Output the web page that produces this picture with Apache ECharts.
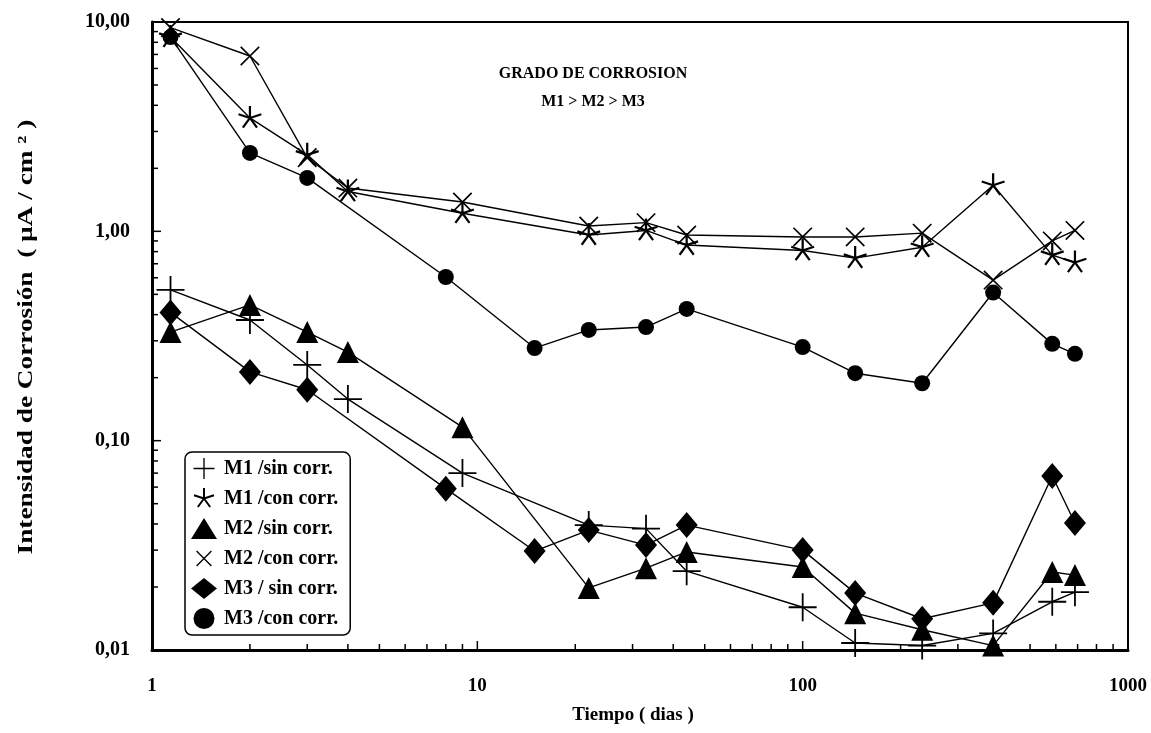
<!DOCTYPE html>
<html>
<head>
<meta charset="utf-8">
<script src="https://cdn.jsdelivr.net/npm/echarts@6/dist/echarts.min.js"></script>
<style>
  html, body { margin: 0; padding: 0; background: #ffffff; }
  #chart { width: 1151px; height: 733px; }
</style>
</head>
<body>
<div id="chart"></div>
<script>
// Exposure time (days) at each measurement
var daysM12 = [1.14, 2, 3, 4, 9, 22, 33, 44, 100, 145, 233, 385, 585, 687];
var daysM3  = [1.14, 2, 3, 8, 15, 22, 33, 44, 100, 145, 233, 385, 585, 687];

// Corrosion current density (µA/cm²)
var m1Sin = [0.525, 0.377, 0.23, 0.158, 0.070, 0.0395, 0.038, 0.0238, 0.016, 0.0108, 0.0105, 0.012, 0.017, 0.0189];
var m1Con = [8.47, 3.48, 2.32, 1.55, 1.22, 0.96, 1.01, 0.86, 0.81, 0.745, 0.84, 1.66, 0.77, 0.71];
var m2Sin = [0.33, 0.445, 0.33, 0.265, 0.116, 0.0198, 0.0246, 0.0294, 0.0249, 0.015, 0.0125, 0.0105, 0.0236, 0.0228];
var m2Con = [9.4, 6.88, 2.25, 1.61, 1.38, 1.06, 1.10, 0.96, 0.94, 0.94, 0.98, 0.585, 0.90, 1.01];
var m3Sin = [0.41, 0.213, 0.175, 0.059, 0.0297, 0.0374, 0.0317, 0.0395, 0.030, 0.0187, 0.0141, 0.0168, 0.0678, 0.0404];
var m3Con = [8.47, 2.37, 1.80, 0.605, 0.277, 0.338, 0.349, 0.426, 0.28, 0.21, 0.188, 0.51, 0.29, 0.26];

var seriesNames = ['M1 /sin corr.', 'M1 /con corr.', 'M2 /sin corr.', 'M2 /con corr.', 'M3 / sin corr.', 'M3 /con corr.'];

// Axis tick values
var xTickLabels = [1, 10, 100, 1000];
var yTickLabels = ['0,01', '0,10', '1,00', '10,00'];
var xMinorTicks = [2, 3, 4, 5, 6, 7, 8, 9, 20, 30, 40, 50, 60, 70, 80, 90, 200, 300, 400, 500, 600, 700, 800, 900];
var yMinorTicks = [0.02, 0.03, 0.04, 0.05, 0.06, 0.07, 0.08, 0.09, 0.2, 0.3, 0.4, 0.5, 0.6, 0.7, 0.8, 0.9, 2, 3, 4, 5, 6, 7, 8, 9];

var SERIF = '"Liberation Serif", "Times New Roman", serif';

// Builds a thin-stroked marker glyph out of rectangular arms radiating from the centre.
function armsPath(anglesDeg, len, hw) {
  var parts = [];
  anglesDeg.forEach(function (a) {
    var r = a * Math.PI / 180;
    var dx = Math.cos(r), dy = Math.sin(r);
    var nx = -dy * hw, ny = dx * hw;
    var pts = [
      [nx, ny], [dx * len + nx, dy * len + ny],
      [dx * len - nx, dy * len - ny], [-nx, -ny]
    ];
    parts.push('M' + pts.map(function (p) { return p[0].toFixed(3) + ',' + p[1].toFixed(3); }).join('L') + 'Z');
  });
  // tiny corner anchors keep the glyph centred in its box
  parts.push('M' + (-len) + ',' + (-len) + 'h0.01v0.01h-0.01Z');
  parts.push('M' + (len - 0.01) + ',' + (len - 0.01) + 'h0.01v0.01h-0.01Z');
  return 'path://' + parts.join('');
}

var symPlus = armsPath([0, 90, 180, 270], 14, 0.9);
var symCross = armsPath([45, 135, 225, 315], 14, 0.9);
var symStar = armsPath([-90, -18, 198, 54, 126], 14, 1.3);

function pairs(xs, ys) {
  return xs.map(function (x, i) { return [x, ys[i]]; });
}

function lineSeries(name, xs, ys, symbol, size) {
  return {
    name: name,
    type: 'line',
    data: pairs(xs, ys),
    symbol: symbol,
    symbolSize: size,
    symbolKeepAspect: true,
    showAllSymbol: true,
    clip: false,
    lineStyle: { color: '#000', width: 1.4 },
    itemStyle: { color: '#000', borderWidth: 0 },
    emphasis: { disabled: true },
    animation: false,
    z: 3
  };
}

// Minor ticks drawn inside the plot along the left and bottom axes
var tickSeries = {
  type: 'custom',
  silent: true,
  animation: false,
  clip: false,
  z: 5,
  data: xMinorTicks.map(function (v) { return ['x', v]; })
    .concat(yMinorTicks.map(function (v) { return ['y', v]; }))
    .concat([1, 10, 100].map(function (v) { return ['X', v]; }))
    .concat([0.1, 1].map(function (v) { return ['Y', v]; })),
  encode: { x: -1, y: -1 },
  renderItem: function (params, api) {
    var kind = api.value(0);
    var v = api.value(1);
    var p, shape;
    if (kind === 'x' || kind === 'X') {
      p = api.coord([v, 0.01]);
      var lx = kind === 'X' ? 9 : 6;
      shape = { x1: p[0], y1: p[1], x2: p[0], y2: p[1] - lx };
    } else {
      p = api.coord([1, v]);
      var ly = kind === 'Y' ? 9 : 6;
      shape = { x1: p[0], y1: p[1], x2: p[0] + ly, y2: p[1] };
    }
    return { type: 'line', shape: shape, style: { stroke: '#000', lineWidth: 1.5 } };
  }
};

var symbols = [symPlus, symStar, 'triangle', symCross, 'diamond', 'circle'];

var option = {
  animation: false,
  backgroundColor: '#ffffff',
  title: [
    {
      text: 'GRADO DE CORROSION',
      left: 588, top: 61,
      textAlign: 'center',
      textStyle: { fontFamily: SERIF, fontWeight: 'bold', fontSize: 16, color: '#000' }
    },
    {
      text: 'M1 > M2 > M3',
      left: 588, top: 89,
      textAlign: 'center',
      textStyle: { fontFamily: SERIF, fontWeight: 'bold', fontSize: 16, color: '#000' }
    }
  ],
  // vertical axis title, stretched along its length
  graphic: [{
    type: 'text',
    x: 26, y: 337,
    rotation: Math.PI / 2,
    scaleX: 1.24,
    style: {
      text: 'Intensidad de Corrosión  ( µA / cm ² )',
      fontFamily: SERIF, fontWeight: 'bold', fontSize: 22, fill: '#000',
      align: 'center', verticalAlign: 'middle'
    },
    silent: true
  }],
  legend: {
    orient: 'vertical',
    left: 185, top: 452,
    padding: [6, 12, 6, 6],
    itemGap: 9,
    itemWidth: 26,
    itemHeight: 21,
    itemSymbolKeepAspect: true,
    backgroundColor: '#fff',
    borderColor: '#000',
    borderWidth: 1.5,
    borderRadius: 7,
    selectedMode: false,
    textStyle: { fontFamily: SERIF, fontWeight: 'bold', fontSize: 20, color: '#000', padding: [0, 0, 0, 2] },
    data: seriesNames.map(function (n, i) {
      return { name: n, icon: symbols[i], itemStyle: { color: '#000' } };
    })
  },
  grid: {
    left: 152, right: 23, top: 22, bottom: 83,
    show: true,
    borderColor: '#000',
    borderWidth: 2,
    backgroundColor: 'transparent'
  },
  xAxis: {
    type: 'log',
    logBase: 10,
    min: 1, max: 1000,
    name: 'Tiempo ( dias )',
    nameLocation: 'middle',
    nameGap: 56,
    nameTextStyle: { fontFamily: SERIF, fontWeight: 'bold', fontSize: 19, color: '#000', padding: [0, 14, 0, 0] },
    axisLine: { show: true, lineStyle: { color: '#000', width: 3 } },
    axisTick: { show: false },
    splitLine: { show: false },
    axisLabel: {
      margin: 27,
      fontFamily: SERIF, fontWeight: 'bold', fontSize: 19, color: '#000',
      formatter: function (v) {
        var r = Math.round(v);
        return xTickLabels.indexOf(r) >= 0 ? String(r) : '';
      }
    }
  },
  yAxis: {
    type: 'log',
    logBase: 10,
    min: 0.01, max: 10,
    axisLine: { show: true, lineStyle: { color: '#000', width: 3 } },
    axisTick: { show: false },
    splitLine: { show: false },
    axisLabel: {
      margin: 22,
      fontFamily: SERIF, fontWeight: 'bold', fontSize: 20, color: '#000',
      formatter: function (v) {
        var k = Math.round(Math.log10(v)) + 2;
        return yTickLabels[k] !== undefined ? yTickLabels[k] : '';
      }
    }
  },
  series: [
    lineSeries(seriesNames[0], daysM12, m1Sin, symPlus, 28),
    lineSeries(seriesNames[1], daysM12, m1Con, symStar, 24),
    lineSeries(seriesNames[2], daysM12, m2Sin, 'triangle', 22),
    lineSeries(seriesNames[3], daysM12, m2Con, symCross, 26),
    lineSeries(seriesNames[4], daysM3, m3Sin, 'diamond', [22, 26]),
    lineSeries(seriesNames[5], daysM3, m3Con, 'circle', 16),
    tickSeries
  ]
};

var chart = echarts.init(document.getElementById('chart'), null, { renderer: 'canvas' });
chart.setOption(option);
</script>
</body>
</html>
